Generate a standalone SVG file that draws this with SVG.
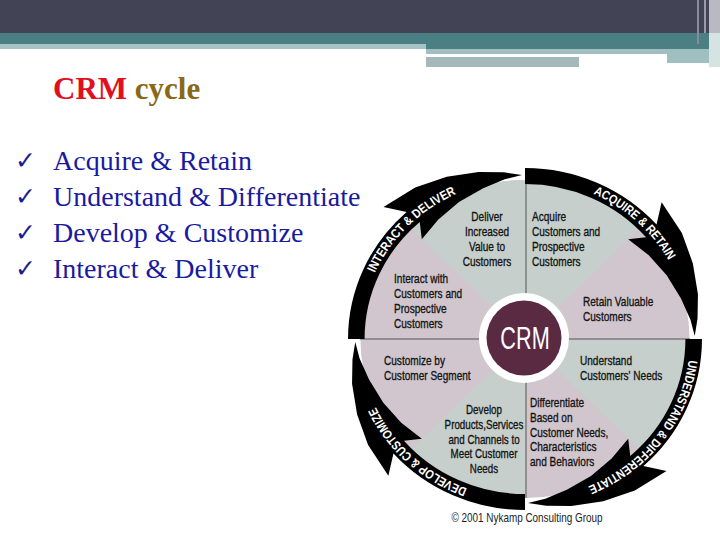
<svg xmlns="http://www.w3.org/2000/svg" xmlns:xlink="http://www.w3.org/1999/xlink" width="720" height="540" viewBox="0 0 720 540">
<style>
.seg{font-family:"Liberation Sans",Arial,sans-serif;font-size:13.6px;fill:#141414;stroke:#141414;stroke-width:0.35px}
.rim{font-family:"Liberation Sans",Arial,sans-serif;font-size:12.5px;font-weight:bold;fill:#ffffff}
.bul{font-family:"Liberation Serif","Times New Roman",serif;font-size:28px;fill:#1a1aa0}
.chk{font-family:"DejaVu Sans",sans-serif;font-size:25px;font-weight:bold;fill:#1c1c8c}
.title{font-family:"Liberation Serif","Times New Roman",serif;font-size:31px;font-weight:bold}
.gg{fill:#c6cfcb}
.mv{fill:#d1c6cd}
.div{stroke:#555555;stroke-width:1}
</style>
<defs>
<path id="arw" d="M0,-171 A171,171 0 0 1 127.1,-114.4 L132,-136.7 L151.6,-106.1 L162.2,-75.6 L167.1,-44.8 L166.7,-20.5 L164,-2.9 L159.8,-19.6 L150.7,-40.4 L136.9,-63.8 L119.6,-83.7 L99.7,-99.7 L117,-101.7 A155,155 0 0 0 0,-155 Z" fill="#000000"/>
<path id="rimArc" d="M0,-159.5 A159.5,159.5 0 0 1 159.5,0" fill="none"/>
</defs>
<rect width="720" height="540" fill="#ffffff"/>
<g id="header">
<rect x="0" y="0" width="720" height="33" fill="#434356"/>
<rect x="0" y="33" width="720" height="11" fill="#4a7f84"/>
<rect x="0" y="44" width="426" height="5" fill="#a6c2c4"/>
<rect x="426" y="44" width="283" height="5" fill="#4a7f84"/>
<rect x="426" y="49" width="241" height="5" fill="#a2bec0"/>
<rect x="426" y="57" width="153" height="10" fill="#a4b8ba"/>
<rect x="667" y="49" width="42" height="14" fill="#a0bfc0"/>
<rect x="697" y="0" width="2" height="44" fill="#8a8a9a"/>
<rect x="704" y="0" width="2" height="33" fill="#9a9aa8"/>
<rect x="709" y="0" width="11" height="33" fill="#b9b9c2"/>
<rect x="709" y="33" width="11" height="34" fill="#d5e3e3"/>
</g>
<g id="title">
<text class="title" x="53" y="99"><tspan fill="#e01020">CRM</tspan><tspan fill="#8a6818"> cycle</tspan></text>
</g>
<g id="bullets">
<text class="chk" x="15" y="169">✓</text>
<text class="bul" x="53" y="170">Acquire &amp; Retain</text>
<text class="chk" x="15" y="205">✓</text>
<text class="bul" x="53" y="206">Understand &amp; Differentiate</text>
<text class="chk" x="15" y="241">✓</text>
<text class="bul" x="53" y="242">Develop &amp; Customize</text>
<text class="chk" x="15" y="277">✓</text>
<text class="bul" x="53" y="278">Interact &amp; Deliver</text>
</g>
<g id="wheel" transform="translate(525,339) scale(1.035,1)">
<circle r="159" class="mv"/>
<path class="gg" d="M0,0 L-112.4,-112.4 A159,159 0 0 1 112.4,-112.4 Z"/>
<path class="gg" d="M0,0 L159,0 A159,159 0 0 1 112.4,112.4 Z"/>
<path class="gg" d="M0,0 L0,159 A159,159 0 0 1 -112.4,112.4 Z"/>
</g>
<g id="dividers">
<line class="div" x1="526" y1="180" x2="526" y2="498"/>
<line class="div" x1="360" y1="339" x2="690" y2="339"/>
</g>
<g id="connectors">
<g id="arrow-acquire" transform="translate(525,339) scale(1.035,1) rotate(0)">
<use href="#arw" xlink:href="#arw"/>
<text class="rim"><textPath href="#rimArc" xlink:href="#rimArc" startOffset="68" textLength="100" lengthAdjust="spacingAndGlyphs">ACQUIRE &amp; RETAIN</textPath></text>
</g>
<g id="arrow-understand" transform="translate(525,339) scale(1.035,1) rotate(90)">
<use href="#arw" xlink:href="#arw"/>
<text class="rim"><textPath href="#rimArc" xlink:href="#rimArc" startOffset="21" textLength="167" lengthAdjust="spacingAndGlyphs">UNDERSTAND &amp; DIFFERENTIATE</textPath></text>
</g>
<g id="arrow-develop" transform="translate(525,339) scale(1.035,1) rotate(180)">
<use href="#arw" xlink:href="#arw"/>
<text class="rim"><textPath href="#rimArc" xlink:href="#rimArc" startOffset="57" textLength="123" lengthAdjust="spacingAndGlyphs">DEVELOP &amp; CUSTOMIZE</textPath></text>
</g>
<g id="arrow-interact" transform="translate(525,339) scale(1.035,1) rotate(270)">
<use href="#arw" xlink:href="#arw"/>
<text class="rim"><textPath href="#rimArc" xlink:href="#rimArc" startOffset="68" textLength="114" lengthAdjust="spacingAndGlyphs">INTERACT &amp; DELIVER</textPath></text>
</g>
</g>
<g id="crm-center">
<circle cx="524" cy="338" r="45" fill="#ffffff"/>
<circle cx="524" cy="338" r="37.5" fill="#5a2a43"/>
<g transform="translate(525,0) scale(0.7,1)"><text x="0" y="349" text-anchor="middle" font-family="Liberation Sans, Arial, sans-serif" font-size="31" fill="#ffffff">CRM</text></g>
</g>
<g id="seg-deliver" transform="translate(487,0) scale(0.74,1)">
<text class="seg" text-anchor="middle" x="0" y="221">Deliver</text>
<text class="seg" text-anchor="middle" x="0" y="236">Increased</text>
<text class="seg" text-anchor="middle" x="0" y="251">Value to</text>
<text class="seg" text-anchor="middle" x="0" y="266">Customers</text>
</g>
<g id="seg-acquire" transform="translate(532,0) scale(0.74,1)">
<text class="seg" x="0" y="221">Acquire</text>
<text class="seg" x="0" y="236">Customers and</text>
<text class="seg" x="0" y="251">Prospective</text>
<text class="seg" x="0" y="266">Customers</text>
</g>
<g id="seg-interact" transform="translate(394,0) scale(0.74,1)">
<text class="seg" x="0" y="283">Interact with</text>
<text class="seg" x="0" y="298">Customers and</text>
<text class="seg" x="0" y="313">Prospective</text>
<text class="seg" x="0" y="328">Customers</text>
</g>
<g id="seg-retain" transform="translate(583,0) scale(0.74,1)">
<text class="seg" x="0" y="306">Retain Valuable</text>
<text class="seg" x="0" y="321">Customers</text>
</g>
<g id="seg-customize" transform="translate(384,0) scale(0.74,1)">
<text class="seg" x="0" y="365">Customize by</text>
<text class="seg" x="0" y="380">Customer Segment</text>
</g>
<g id="seg-understand" transform="translate(580,0) scale(0.74,1)">
<text class="seg" x="0" y="365">Understand</text>
<text class="seg" x="0" y="380">Customers' Needs</text>
</g>
<g id="seg-develop" transform="translate(484,0) scale(0.72,1)">
<text class="seg" text-anchor="middle" x="0" y="414">Develop</text>
<text class="seg" text-anchor="middle" x="0" y="429">Products,Services</text>
<text class="seg" text-anchor="middle" x="0" y="444">and Channels to</text>
<text class="seg" text-anchor="middle" x="0" y="458">Meet Customer</text>
<text class="seg" text-anchor="middle" x="0" y="473">Needs</text>
</g>
<g id="seg-differentiate" transform="translate(530,0) scale(0.74,1)">
<text class="seg" x="0" y="407">Differentiate</text>
<text class="seg" x="0" y="422">Based on</text>
<text class="seg" x="0" y="437">Customer Needs,</text>
<text class="seg" x="0" y="451">Characteristics</text>
<text class="seg" x="0" y="466">and Behaviors</text>
</g>
<g id="copyright">
<text x="527" y="522" text-anchor="middle" font-family="Liberation Sans, Arial, sans-serif" font-size="13" fill="#1c1c1c" textLength="151" lengthAdjust="spacingAndGlyphs">© 2001 Nykamp Consulting Group</text>
</g>
</svg>
